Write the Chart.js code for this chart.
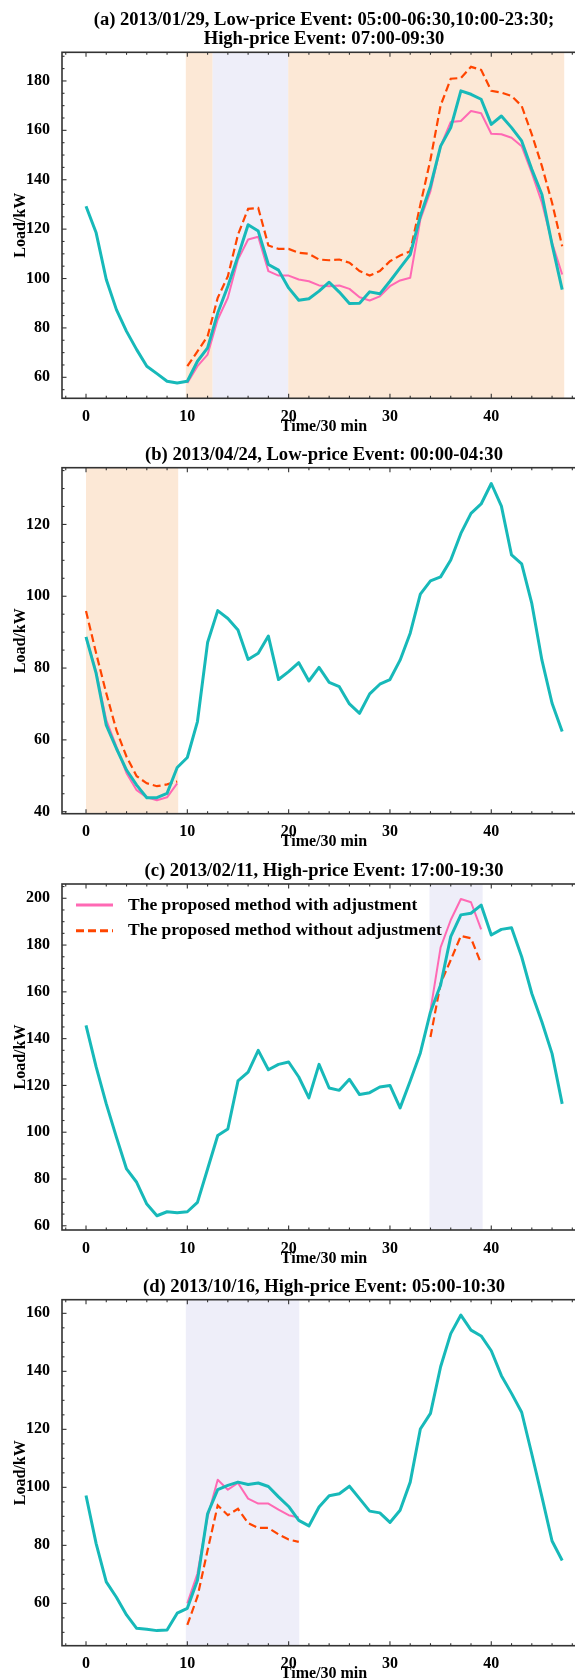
<!DOCTYPE html>
<html>
<head>
<meta charset="utf-8">
<script src="https://cdn.jsdelivr.net/npm/chart.js@4.4.1/dist/chart.umd.min.js"></script>
<style>
  html, body { margin: 0; padding: 0; background: #fff; overflow: hidden; }
  #wrap { position: relative; width: 575px; height: 1680px; overflow: hidden; }
  #wrap canvas { position: absolute; left: 0; }
</style>
</head>
<body>
<div id="wrap"></div>
<script>
// ─── Eixo X (Time/30 min) ─────────────────────────────────────────────────────
const TIME = [0, 1, 2, 3, 4, 5, 6, 7, 8, 9, 10, 11, 12, 13, 14, 15, 16, 17, 18, 19, 20, 21, 22, 23,
              24, 25, 26, 27, 28, 29, 30, 31, 32, 33, 34, 35, 36, 37, 38, 39, 40, 41, 42, 43, 44, 45, 46, 47];
const X_TICKS = [0, 10, 20, 30, 40];
const X_MIN = -2.37, X_MAX = 49.35;

// ─── (a) 2013/01/29 ──────────────────────────────────────────────────────────
const LOAD_A = [129.3, 118.5, 99.6, 87.4, 78.6, 71.2, 64.5, 61.5, 58.4, 57.7, 58.4, 66.5, 71.9, 86, 96.9, 109,
                121.8, 119.2, 105.7, 103.4, 96.2, 91.2, 91.8, 94.9, 98.5, 94.5, 89.9, 90, 94.6, 93.8, 98.9, 104.3,
                109.7, 125.3, 137.4, 153.6, 161.1, 176, 174.6, 172.6, 162.4, 165.8, 161.1, 155.7, 144.2, 134, 113.8, 95.5];
const ADJ_A_START = 10;
const ADJ_A = [57.7, 64.5, 69.2, 83.4, 92.2, 107.7, 115.8, 116.9, 103, 101.2, 101.2, 99.6, 98.9, 97.2, 96.9, 97.2,
               95.8, 92.4, 91.1, 92.8, 96.9, 99.2, 100.3, 123.9, 135.4, 153.6, 163.4, 163.8, 167.8, 166.9, 158.6,
               158.4, 157, 153.6, 142.8, 130.7, 114.5, 101.6];
const NOADJ_A = [64.5, 70.5, 76.6, 92.2, 100.9, 117.8, 128.2, 128.6, 113.4, 112, 112, 110.4, 110, 107.7, 107.4, 107.7,
                 106.4, 103, 101.2, 103, 107, 109.3, 111, 129.9, 148.2, 170.1, 180.9, 181.2, 185.7, 184.5, 176,
                 175.3, 173.9, 169.9, 158.4, 145.5, 130.7, 113.1];
const Y_TICKS_A = [60, 80, 100, 120, 140, 160, 180];
const BANDS_A = [[9.85, 12.5, 'low'], [12.5, 19.96, 'high'], [19.96, 47.2, 'low']];

// ─── (b) 2013/04/24 ──────────────────────────────────────────────────────────
const LOAD_B = [88.7, 78.5, 64.1, 57.6, 51.6, 47.4, 43.9, 43.9, 45.1, 52.3, 55.1, 65.1, 87.1, 96, 93.8, 90.6,
                82.4, 84.1, 88.9, 76.8, 79, 81.5, 76.4, 80.2, 76, 74.8, 70, 67.4, 72.8, 75.5, 76.8, 82.2,
                89.7, 100.6, 104.3, 105.4, 110.1, 117.5, 123.1, 125.7, 131.4, 125.1, 111.5, 109, 98, 82.2, 70.2, 62.3];
const ADJ_B_START = 0;
const ADJ_B = [88.5, 79, 65.5, 58.1, 50.7, 46, 44, 43.2, 44, 47.9];
const NOADJ_B = [95.9, 84.1, 73, 62.7, 55.3, 49.9, 47.9, 47.1, 47.6, 48.4];
const Y_TICKS_B = [40, 60, 80, 100, 120];
const BANDS_B = [[0, 9.1, 'low']];

// ─── (c) 2013/02/11 ──────────────────────────────────────────────────────────
const LOAD_C = [145.7, 127.9, 112.1, 97.9, 84.3, 78.6, 69.3, 64.3, 66, 65.6, 66, 70, 84.3, 98.6, 101.4, 121.9,
                125.7, 135, 126.7, 129, 130, 123.6, 114.7, 129, 118.9, 117.9, 122.6, 116.1, 116.9, 119.3, 120, 110.4,
                121.9, 133.9, 151.4, 162.9, 183.6, 192.9, 193.6, 197.1, 184.3, 186.7, 187.4, 175, 159.3, 147.1, 133.6, 112.1];
const ADJ_C_START = 34;
const ADJ_C = [152.1, 179, 190.7, 199.7, 198.3, 186.7];
const NOADJ_C = [140.7, 163.6, 173.6, 183.9, 182.9, 172.1];
const Y_TICKS_C = [60, 80, 100, 120, 140, 160, 180, 200];
const BANDS_C = [[33.9, 39.15, 'high']];

// ─── (d) 2013/10/16 ──────────────────────────────────────────────────────────
const LOAD_D = [97.2, 80.6, 67.4, 62.1, 56, 51.4, 51.1, 50.6, 50.8, 56.6, 58.3, 68, 90.9, 99.2, 100.7, 101.8,
                101, 101.5, 100.3, 96.7, 93.4, 88.6, 86.7, 93.2, 97.1, 97.8, 100.4, 96.1, 91.8, 91.2, 87.9, 92.1,
                101.8, 120.1, 125.5, 141.6, 153, 159.4, 154.2, 152.2, 147.1, 138.5, 132.4, 125.9, 111.5, 96.7, 81.5, 74.8];
const ADJ_D_START = 10;
const ADJ_D = [60, 70.3, 89.8, 102.6, 99.2, 101.5, 96.1, 94.4, 94.4, 92.3, 90.4, 89.6];
const NOADJ_D = [52.6, 62.3, 78.3, 93.8, 90.4, 92.6, 87.7, 86, 86, 83.8, 82, 81.2];
const Y_TICKS_D = [60, 80, 100, 120, 140, 160];
const BANDS_D = [[9.85, 21.05, 'high']];

// ─── Estilos ──────────────────────────────────────────────────────────────────
const COR_REAL   = '#17b9b9';
const COR_AJUSTE = '#ff69b4';
const COR_SEM    = '#ff4500';
const COR_BANDA  = { low: '#fce8d6', high: '#eeeef9' };
const COR_EIXO   = '#333';
const FONTE      = '"Liberation Serif", "Times New Roman", serif';
const LBL_AJUSTE = 'The proposed method with adjustment';
const LBL_SEM    = 'The proposed method without adjustment';

Chart.defaults.font.family = FONTE;
Chart.defaults.color = '#000';

const PAINEIS = [
  { title: ['(a) 2013/01/29, Low-price Event: 05:00-06:30,10:00-23:30;', 'High-price Event: 07:00-09:30'],
    top: 52.3, yMin: 51.5, yMax: 191.6, yTicks: Y_TICKS_A, load: LOAD_A,
    start: ADJ_A_START, adj: ADJ_A, noadj: NOADJ_A, bands: BANDS_A, legenda: false },
  { title: ['(b) 2013/04/24, Low-price Event: 00:00-04:30'],
    top: 467.7, yMin: 39.44, yMax: 135.8, yTicks: Y_TICKS_B, load: LOAD_B,
    start: ADJ_B_START, adj: ADJ_B, noadj: NOADJ_B, bands: BANDS_B, legenda: false },
  { title: ['(c) 2013/02/11, High-price Event: 17:00-19:30'],
    top: 884, yMin: 58.2, yMax: 206.1, yTicks: Y_TICKS_C, load: LOAD_C,
    start: ADJ_C_START, adj: ADJ_C, noadj: NOADJ_C, bands: BANDS_C, legenda: true },
  { title: ['(d) 2013/10/16, High-price Event: 05:00-10:30'],
    top: 1299.7, yMin: 45.4, yMax: 164.7, yTicks: Y_TICKS_D, load: LOAD_D,
    start: ADJ_D_START, adj: ADJ_D, noadj: NOADJ_D, bands: BANDS_D, legenda: false },
];

const ALTURA_PLOT = 346;
const LARGURA_CANVAS = 600;
const AREA_DIREITA = 586;
const AREA_ESQUERDA = 62;
const LINHA_TITULO = 18.7;
const FONTE_TITULO = 18.6;

// ─── Plugins ──────────────────────────────────────────────────────────────────
// faixas de preço (atrás das linhas)
const faixas = {
  id: 'faixas',
  beforeDatasetsDraw(chart, args, opts) {
    const { ctx, chartArea: a, scales: { x } } = chart;
    ctx.save();
    ctx.beginPath();
    ctx.rect(a.left, a.top, a.width, a.height);
    ctx.clip();
    (opts.bands || []).forEach(([ini, fim, tipo]) => {
      const x0 = x.getPixelForValue(ini);
      const x1 = x.getPixelForValue(fim);
      ctx.fillStyle = COR_BANDA[tipo];
      ctx.fillRect(x0, a.top, x1 - x0, a.height);
    });
    ctx.restore();
  },
};

// moldura com ticks para dentro, estilo matplotlib
const moldura = {
  id: 'moldura',
  afterDraw(chart) {
    const { ctx, chartArea: a, scales: { x, y } } = chart;
    ctx.save();
    ctx.strokeStyle = COR_EIXO;
    ctx.lineWidth = 1.1;
    const traco = (px, py, dx, dy) => { ctx.beginPath(); ctx.moveTo(px, py); ctx.lineTo(px + dx, py + dy); ctx.stroke(); };
    for (let v = Math.ceil(x.min / 2) * 2; v <= x.max; v += 2) {
      const px = x.getPixelForValue(v);
      const len = v % 10 === 0 ? 4.5 : 2.5;
      traco(px, a.bottom, 0, -len);
      traco(px, a.top, 0, len);
    }
    for (let v = Math.ceil(y.min / 5) * 5; v <= y.max; v += 5) {
      const py = y.getPixelForValue(v);
      const len = v % 20 === 0 ? 4.5 : 2.5;
      traco(a.left, py, len, 0);
      traco(a.right, py, -len, 0);
    }
    ctx.lineWidth = 1.6;
    ctx.strokeRect(a.left, a.top, a.width, a.height);
    ctx.restore();
  },
};

// legenda dentro da área do gráfico (painel c)
const legendaInterna = {
  id: 'legendaInterna',
  afterDatasetsDraw(chart, args, opts) {
    if (!opts.show) return;
    const { ctx, chartArea: a } = chart;
    ctx.save();
    ctx.font = `bold 17.5px ${FONTE}`;
    ctx.textBaseline = 'middle';
    ctx.fillStyle = '#000';
    [1, 2].forEach((idx, i) => {
      const ds = chart.data.datasets[idx];
      const yy = a.top + 21 + i * 25.7;
      ctx.strokeStyle = ds.borderColor;
      ctx.lineWidth = 3;
      ctx.setLineDash(ds.borderDash || []);
      ctx.beginPath();
      ctx.moveTo(a.left + 14, yy);
      ctx.lineTo(a.left + 51, yy);
      ctx.stroke();
      ctx.setLineDash([]);
      ctx.fillText(ds.label, a.left + 66, yy);
    });
    ctx.restore();
  },
};

// ─── Montagem ─────────────────────────────────────────────────────────────────
function serie(start, vals) {
  return vals.map((v, i) => ({ x: start + i, y: v }));
}

function criarPainel(p) {
  const ct = Math.floor(p.top - 50);
  const areaTop = p.top - ct;
  const baseArea = areaTop + ALTURA_PLOT;
  const altura = Math.ceil(baseArea + 45);
  const hx = altura - baseArea;

  const cv = document.createElement('canvas');
  cv.width = LARGURA_CANVAS;
  cv.height = altura;
  cv.style.top = ct + 'px';
  document.getElementById('wrap').appendChild(cv);

  const fonteB = { family: FONTE, size: 16, weight: 'bold' };

  return new Chart(cv.getContext('2d'), {
    type: 'line',
    data: {
      datasets: [
        { label: 'Actual', data: serie(0, p.load), borderColor: COR_REAL, borderWidth: 3,
          borderJoinStyle: 'round', pointRadius: 0, tension: 0 },
        { label: LBL_AJUSTE, data: serie(p.start, p.adj), borderColor: COR_AJUSTE, borderWidth: 2,
          borderJoinStyle: 'round', pointRadius: 0, tension: 0 },
        { label: LBL_SEM, data: serie(p.start, p.noadj), borderColor: COR_SEM, borderWidth: 2.2,
          borderDash: [8, 4], pointRadius: 0, tension: 0 },
      ],
    },
    options: {
      responsive: false,
      animation: false,
      devicePixelRatio: 1,
      layout: { padding: { left: 0, top: 0, bottom: 0, right: LARGURA_CANVAS - AREA_DIREITA } },
      plugins: {
        legend: { display: false },
        tooltip: { enabled: false },
        title: {
          display: true, text: p.title, fullSize: false, color: '#000',
          font: { family: FONTE, size: FONTE_TITULO, weight: 'bold', lineHeight: LINHA_TITULO / FONTE_TITULO },
          padding: { top: areaTop - p.title.length * LINHA_TITULO - 3.65, bottom: 3.65 },
        },
        faixas: { bands: p.bands },
        legendaInterna: { show: p.legenda },
      },
      scales: {
        x: {
          type: 'linear', min: X_MIN, max: X_MAX,
          grid: { display: false }, border: { display: false },
          afterBuildTicks: s => { s.ticks = X_TICKS.map(v => ({ value: v })); },
          afterFit: s => { s.height = hx; },
          ticks: { font: fonteB, padding: 1, maxRotation: 0, color: '#000' },
          title: { display: true, text: 'Time/30 min', font: fonteB, color: '#000',
                   padding: { top: 0, bottom: hx - 28.6 - 9.6 } },
        },
        y: {
          type: 'linear', min: p.yMin, max: p.yMax,
          grid: { display: false }, border: { display: false },
          afterBuildTicks: s => { s.ticks = p.yTicks.map(v => ({ value: v })); },
          afterFit: s => { s.width = AREA_ESQUERDA; },
          ticks: { font: fonteB, padding: 4, color: '#000' },
          title: { display: true, text: 'Load/kW', font: fonteB, color: '#000',
                   padding: { top: 11.4, bottom: 0 } },
        },
      },
    },
    plugins: [faixas, moldura, legendaInterna],
  });
}

PAINEIS.forEach(criarPainel);
</script>
</body>
</html>
